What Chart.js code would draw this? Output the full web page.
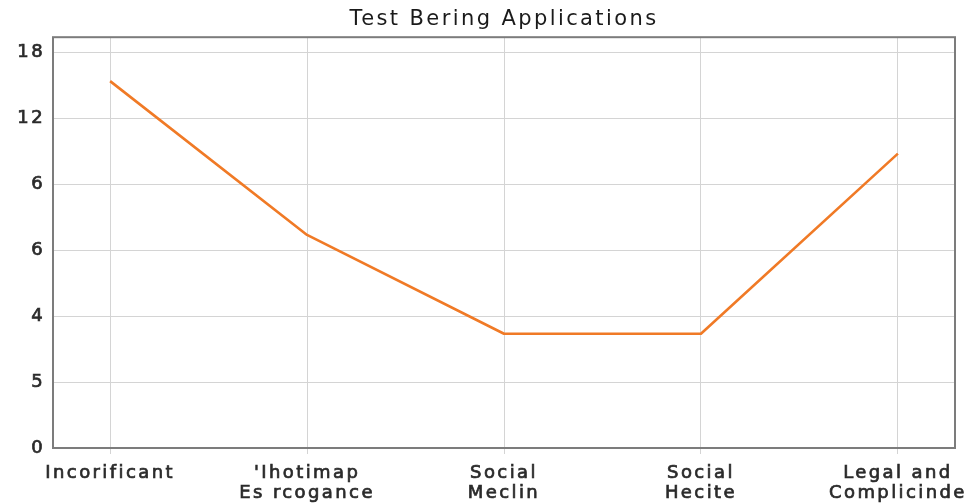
<!DOCTYPE html>
<html>
<head>
<meta charset="utf-8">
<script src="https://cdn.jsdelivr.net/npm/chart.js@4/dist/chart.umd.min.js"></script>
<style>
  html, body { margin: 0; padding: 0; background: #fff; }
  #wrap { width: 967px; height: 503px; }
</style>
</head>
<body>
<div id="wrap"><canvas id="c" width="967" height="503"></canvas></div>
<script>
// Categories along the x axis (multi-line labels)
const categories = [
  ["Incorificant"],
  ["'Ihotimap", "Es rcogance"],
  ["Social", "Meclin"],
  ["Social", "Hecite"],
  ["Legal and", "Complicinde"]
];

// Series values, one per category
const seriesValues = [16.7, 9.7, 5.2, 5.2, 13.4];

// Y gridline positions and the labels printed beside them
const yTickValues = [0, 3, 6, 9, 12, 15, 18];
const yTickLabels = ["0", "5", "4", "6", "6", "12", "18"];

const FONT = "'DejaVu Sans', Verdana, sans-serif";
const LETTER_SPACING = '2.4px';

// Wide lettering for every label (set before measuring and before painting)
const spacing = {
  id: 'spacing',
  beforeLayout(chart) { chart.ctx.letterSpacing = LETTER_SPACING; },
  beforeDraw(chart) { chart.ctx.letterSpacing = LETTER_SPACING; }
};

// Outline around the plotting area
const frame = {
  id: 'frame',
  afterDraw(chart) {
    const { ctx, chartArea: a } = chart;
    ctx.save();
    ctx.strokeStyle = '#7c7c7c';
    ctx.lineWidth = 2;
    ctx.strokeRect(a.left, a.top, a.right - a.left, a.bottom - a.top);
    ctx.restore();
  }
};

new Chart(document.getElementById('c'), {
  type: 'line',
  data: {
    datasets: [{
      data: seriesValues.map((v, i) => ({ x: i, y: v })),
      borderColor: '#f07a26',
      borderWidth: 2.6,
      borderJoinStyle: 'round',
      pointRadius: 0,
      tension: 0,
      fill: false
    }]
  },
  options: {
    responsive: false,
    animation: false,
    layout: { padding: { left: 0, right: 12, top: 0, bottom: 0 } },
    plugins: {
      legend: { display: false },
      tooltip: { enabled: false },
      title: {
        display: true,
        fullSize: false,
        text: 'Test Bering Applications',
        color: '#1a1a1a',
        font: { family: FONT, size: 21, weight: 'normal' },
        padding: { top: 7, bottom: 5 }
      }
    },
    scales: {
      x: {
        type: 'linear',
        min: -0.29,
        max: 4.29,
        afterBuildTicks: s => { s.ticks = categories.map((_, i) => ({ value: i })); },
        afterFit: s => { s.height = 55; s.paddingLeft = 0; s.paddingRight = 0; },
        grid: { color: '#d4d4d4', lineWidth: 1, tickLength: 6, drawTicks: true },
        border: { display: false },
        ticks: {
          autoSkip: false,
          maxRotation: 0,
          padding: 9,
          color: '#2a2a2a',
          textStrokeColor: '#2a2a2a',
          textStrokeWidth: 0.7,
          font: { family: FONT, size: 18, lineHeight: 1.12 },
          callback: v => categories[v]
        }
      },
      y: {
        min: 0,
        max: 18.7,
        afterBuildTicks: s => { s.ticks = yTickValues.map(v => ({ value: v })); },
        afterFit: s => { s.width = 53; s.paddingTop = 0; s.paddingBottom = 0; },
        grid: { color: '#d4d4d4', lineWidth: 1, drawTicks: false },
        border: { display: false },
        ticks: {
          padding: 8,
          color: '#2a2a2a',
          textStrokeColor: '#2a2a2a',
          textStrokeWidth: 0.7,
          font: { family: FONT, size: 18 },
          callback: v => yTickLabels[yTickValues.indexOf(v)]
        }
      }
    }
  },
  plugins: [spacing, frame]
});
</script>
</body>
</html>
